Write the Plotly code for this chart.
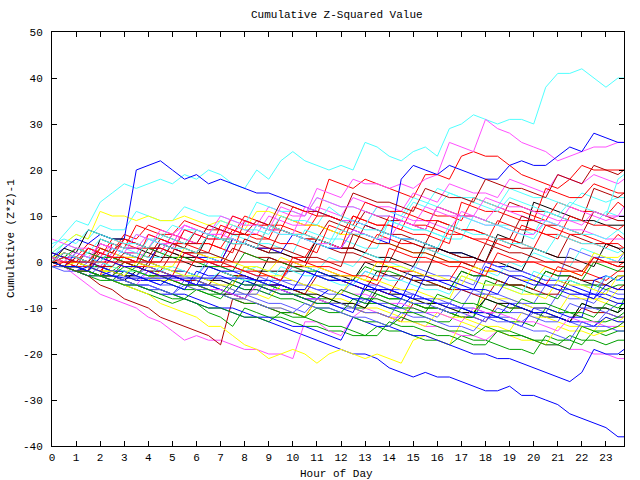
import plotly.graph_objects as go

# x positions (hours) of the samples
hours = [i * 0.5 for i in range(48)] + [23.75]
x_ticks = list(range(24))
y_ticks = [-40, -30, -20, -10, 0, 10, 20, 30, 40, 50]

# ---- series values ----
cyan_1 = [3, 6, 9, 8, 13, 15, 17, 16, 17, 18, 17, 19, 18, 20, 19, 17, 16, 20, 18, 22, 24, 22, 21, 20,
          21, 20, 26, 25, 23, 22, 24, 25, 23, 29, 30, 32, 31, 30, 31, 31, 30, 38, 41, 41, 42, 40, 38, 40, 40]
cyan_2 = [1, 4, 6, 5, 8, 7, 7, 11, 10, 9, 9, 12, 11, 10, 10, 9, 8, 13, 12, 11, 11, 10, 14, 13,
          12, 12, 11, 10, 10, 9, 13, 12, 16, 15, 14, 14, 13, 12, 16, 15, 14, 14, 13, 12, 15, 14, 13, 14, 14]
cyan_3 = [0, 1, 0, 2, 1, 0, 3, 2, 1, 1, 4, 3, 2, 2, 1, 6, 5, 4, 4, 3, 2, 7, 6, 5,
          5, 4, 3, 3, 9, 8, 7, 7, 6, 5, 5, 10, 9, 8, 8, 7, 6, 11, 10, 9, 9, 8, 11, 10, 10]
cyan_4 = [1, 0, 2, 1, 0, -1, 1, 0, -1, -2, -1, -2, -3, 1, 0, -1, -2, -1, -2, -3, 0, -1, -2, 1,
          0, -1, 2, 1, 0, -1, -2, 3, 2, 1, 0, -1, -2, -3, 0, -1, 2, 1, 0, -1, 3, 2, 1, 0, 1]
cyan_5 = [2, 4, 3, 2, 5, 4, 3, 6, 5, 5, 8, 7, 7, 6, 9, 8, 7, 7, 6, 10, 9, 9, 8, 12,
          10, 9, 8, 12, 11, 10, 14, 13, 12, 15, 14, 13, 12, 11, 14, 13, 12, 11, 10, 13, 12, 11, 10, 18, 19]
cyan_6 = [0, -1, -1, -2, 0, -1, -2, -2, -3, -1, -2, -3, -3, -4, -2, -3, -4, -4, -5, -1, -2, -3, -3, -4,
          -5, -5, -2, -3, -4, -4, -5, -6, -6, -7, -3, -4, -5, -5, -6, -7, -2, -3, -4, -4, -5, -6, -3, -4, -4]
cyan_7 = [4, 5, 4, 7, 6, 5, 4, 4, 3, 6, 5, 4, 7, 6, 5, 5, 4, 8, 7, 6, 6, 5, 4, 3,
          7, 6, 6, 5, 9, 8, 7, 7, 6, 5, 10, 9, 8, 8, 7, 6, 5, 9, 8, 7, 6, 6, 5, 7, 6]
cyan_8 = [0, 2, 1, 0, 0, 3, 2, 1, 5, 4, 3, 3, 2, 6, 5, 4, 4, 3, 8, 7, 6, 6, 5, 4,
          9, 8, 7, 7, 6, 5, 5, 4, 3, 8, 7, 6, 6, 5, 4, 4, 3, 2, 6, 5, 4, 4, 3, 2, 3]

blue_1 = [0, -1, -2, -3, -3, -4, -5, -5, -6, -7, -7, -8, -9, -10, -10, -11, -12, -12, -13, -14, -15, -16, -17, -18,
          -19, -20, -20, -21, -23, -24, -25, -24, -25, -25, -26, -27, -28, -28, -27, -29, -29, -30, -31, -33, -34, -35, -36, -38, -38]
blue_2 = [0, -1, -1, -2, -3, -3, -4, -5, -5, -6, -7, -7, -8, -9, -10, -10, -11, -12, -12, -13, -14, -14, -15, -16,
          -17, -12, -13, -14, -14, -15, -16, -16, -17, -18, -19, -20, -20, -21, -21, -22, -23, -24, -25, -26, -24, -19, -20, -20, -19]
blue_3 = [1, 3, 5, 4, 6, 5, 5, 20, 21, 22, 20, 18, 19, 17, 18, 17, 16, 15, 15, 14, 13, 12, 11, 10,
          9, 9, 8, 7, 6, 5, 5, 4, 3, 2, 2, 1, 0, -1, -1, -2, -3, -4, -4, -5, -6, -7, -7, -8, -8]
blue_4 = [0, -1, 2, 1, 0, 3, 2, 1, 0, 4, 3, 2, 1, 1, 0, 5, 4, 3, 3, 2, 6, 5, 4, 3,
          3, 7, 6, 5, 4, 18, 21, 20, 19, 21, 20, 19, 18, 18, 21, 22, 21, 21, 23, 25, 24, 28, 27, 26, 26]
blue_5 = [0, -1, -1, -2, -3, -2, -3, -4, -4, -5, -3, -4, -5, -5, -6, -7, -4, -5, -6, -6, -7, -8, -8, -6,
          -7, -8, -8, -9, -10, -10, -7, -8, -9, -9, -10, -11, -11, -12, -9, -10, -11, -11, -12, -13, -13, -14, -12, -13, -13]
blue_6 = [2, 1, 0, 0, -1, -2, -2, -3, -4, -4, -5, -6, -2, -3, -3, -4, -5, -5, -6, -7, -7, -8, -9, -9,
          -10, -11, -5, -6, -6, -7, -8, -8, -9, -10, -10, -11, -12, -12, -13, -14, -10, -10, -11, -12, -12, -4, -3, -4, -3]
blue_7 = [0, -1, -2, -1, -2, -3, -3.5, -3.5, -3.5, -3.5, -3.5, -3.5, -3.5, -3.5, -3.5, -3.5, -3.5, -4, -5, -5, -6, -2, -3, -4,
          -4, -5, -6, -6, -7, -8, -3, -4, -4, -5, -6, -6, -1, -2, -3, -3, -4, -5, -5, -6, -7, -7, -8, -9, -9]
blue_8 = [0, -1, -1, -2, 1, 0, -1, -1, -2, -3, -3, -4, -5, -1, -2, -2, -3, -4, -4, -5, -6, -6, -2, -3,
          -4, -4, -5, -6, -6, -7, -8, -3, -4, -4, -5, -6, -6, -7, -3, -4, -5, -5, -6, -7, -7, -8, -5, -6, -6]

medblue_1 = [-1, -2, -2, -3, -1, -2, -3, -3, -4, -5, -5, -6, -3, -4, -4, -5, -6, -6, -7, -4, -5, -5, -6, -7,
             -7, -8, -9, -5, -6, -6, -7, -8, -8, -9, -6, -7, -7, -8, -9, -9, -10, -11, -7, -8, -8, -9, -6, -7, -7]
medblue_2 = [1, 0, -1, -1, -2, -3, -3, -4, -2, -3, -4, -4, -5, -6, -6, -7, -8, -5, -6, -6, -7, -8, -8, -9,
             -10, -10, -8, -9, -9, -10, -11, -11, -12, -9, -10, -10, -11, -12, -12, -13, -11, -12, -12, -13, -14, -14, -11, -12, -12]
medblue_3 = [2, 1, 1, 0, -1, 2, 1, 0, 0, -1, -2, -2, -3, 0, -1, -2, -2, -3, -4, -4, -1, -2, -3, -3,
             -4, -5, -2, -3, -3, -4, -1, -2, -3, -3, -4, -5, 0, -1, -2, -2, -3, -4, -4, 3, 2, 1, 1, 0, 2]
medblue_4 = [0, -1, -1, -2, -3, -3, -4, -5, -5, -6, -7, -4, -5, -5, -6, -7, -7, -8, -9, -9, -10, -11, -8, -9,
             -9, -10, -11, -11, -12, -8, -9, -9, -10, -11, -11, -12, -13, -10, -11, -11, -12, -13, -13, -9, -10, -10, -11, -9, -9]
medblue_5 = [-1, -1, -2, 0, -1, -2, -2, -3, -1, -2, -3, -3, -4, -5, -5, -6, -7, -7, -3, -4, -4, -5, -6, -6,
             -7, -4, -5, -5, -6, -7, -7, -8, -9, -9, -10, -6, -7, -7, -8, -9, -9, -5, -6, -6, -7, -8, -3, -4, -4]
medblue_6 = [0, -1, -2, -2, -3, -4, -4, -5, -6, -6, -7, -5, -6, -6, -7, -8, -8, -9, -10, -10, -11, -9, -10, -10,
             -11, -12, -12, -13, -14, -11, -12, -12, -13, -14, -14, -15, -12, -13, -13, -14, -15, -15, -16, -17, -13, -14, -14, -15, -15]

green_1 = [0, -1, -2, -3, -4, -4, -5, -6, -7, -8, -9, -8, -9, -11, -12, -14, -10, -11, -12, -12, -13, -14, -14, -15,
           -15, -16, -16, -14, -15, -15, -16, -17, -17, -18, -16, -17, -17, -18, -19, -19, -20, -16, -17, -17, -18, -15, -16, -15, -15]
green_2 = [1, 0, 0, -1, -2, -2, -3, -1, -2, -3, -3, -4, -5, -5, -6, -7, -4, -5, -5, -6, -7, -7, -8, -9,
           -9, -10, -6, -7, -8, -8, -9, -10, -10, -11, -12, -12, -8, -9, -10, -10, -11, -12, -12, -13, -9, -10, -10, -11, -8]
green_3 = [0, 1, 0, -1, -1, -2, 0, -1, -2, -2, -3, -4, -4, -5, -2, -3, -4, -4, -5, -6, -6, -7, -8, -8,
           -9, -10, -10, -7, -8, -8, -9, -10, -10, -11, -12, -12, -4, -5, -5, -6, -7, -7, -8, -4, -5, -5, -6, -5, -5]
green_4 = [-1, -1, -2, -3, -3, -4, -2, -3, -4, -4, -5, -6, -6, -7, -8, -5, -6, -6, -7, -8, -8, -9, -10, -10,
           -11, -8, -9, -9, -10, -11, -11, -12, -13, -13, -10, -11, -11, -12, -13, -13, -14, -10, -11, -11, -12, -13, -13, -12, -11]
green_5 = [2, 1, 3, 2, 1, 1, 0, -1, 3, 2, 1, 1, 0, -1, -1, -2, 2, 1, 0, 0, -1, -2, -2, -3,
           -4, -4, -1, -2, -2, -3, -4, -4, -5, -6, -2, -3, -3, -4, -5, -5, -6, -2, -3, -3, -4, 0, -1, -2, -1]
green_6 = [0, -1, -2, -2, -3, -4, -4, -5, -6, -6, -7, -8, -6, -7, -7, -8, -9, -9, -10, -11, -11, -12, -10, -11,
           -11, -12, -13, -13, -14, -12, -13, -13, -14, -15, -15, -16, -14, -15, -15, -16, -17, -17, -18, -16, -17, -17, -18, -17, -17]
green_7 = [0, -1, -1, -2, -3, -3, -1, -2, -3, -3, -4, -5, -5, -6, -7, -4, -5, -5, -6, -7, -7, -8, -9, -9,
           -6, -7, -8, -8, -9, -10, -10, -11, -7, -8, -9, -9, -10, -11, -11, -8, -9, -9, -10, -11, -11, -12, -9, -10, -9]
green_8 = [0, -1, -2, -2, -3, -4, -5, -5, -6, -7, -8, -8, -9, -10, -10, -11, -12, -12, -13, -11, -12, -12, -13, -14,
           -14, -15, -16, -16, -13, -14, -14, -15, -16, -16, -17, -18, -18, -15, -16, -16, -17, -18, -18, -19, -14, -15, -15, -14, -13]

yellow_1 = [0, -1, -2, -2, -3, -4, -5, -6, -7, -9, -10, -11, -12, -14, -14, -16, -18, -19, -21, -20, -19, -20, -22, -20,
            -19, -20, -21, -20, -21, -22, -17, -16, -17, -18, -13, -14, -15, -15, -16, -17, -17, -18, -14, -15, -15, -16, -15, -14, -14]
yellow_2 = [2, 4, 6, 5, 11, 10, 10, 9, 10, 9, 9, 10, 9, 8, 9, 8, 7, 11, 11, 10, 9, 8, 8, 7,
            6, 6, 5, 4, 4, 3, 2, 2, 1, 0, 0, -1, -2, -2, -3, -4, -4, -5, -6, -6, -7, -8, -8, -9, -9]
yellow_3 = [1, 0, 0, -1, -2, -2, -3, -4, -4, -2, -3, -3, -4, -5, -5, -6, -7, -7, -8, -5, -6, -6, -7, -8,
            -8, -9, -10, -10, -11, -12, -8, -9, -9, -10, -11, -11, -7, -8, -8, -9, -10, -10, -11, -7, -8, -8, -9, -6, -6]
yellow_4 = [0, -1, -1, -2, -3, -1, -2, -2, -3, -4, -4, -5, -6, -6, -7, -8, -8, -9, -10, -10, -11, -12, -8, -9,
            -9, -10, -11, -11, -12, -13, -13, -14, -11, -12, -12, -13, -14, -14, -15, -11, -12, -12, -13, -14, -14, -15, -12, -13, -12]
yellow_5 = [1, 2, 1, 0, 3, 2, 1, 1, 0, -1, -1, 3, 2, 1, 1, 0, -1, -1, -2, 1, 0, -1, -1, -2,
            -3, -3, -4, 0, -1, -1, -2, -3, -3, -4, -5, -1, -2, -2, -3, -4, -4, -1, -2, -2, -3, 2, 1, 1, 2]
yellow_6 = [0, -1, 0, -1, -2, -2, -3, 0, -1, -1, -2, -3, -3, -4, -5, -5, -1, -2, -3, -3, -4, -5, -5, -6,
            -7, -3, -4, -4, -5, -6, -6, -7, -8, -8, -3, -4, -5, -5, -6, -7, -7, -8, -4, -5, -5, -6, -7, -3, -3]

magenta_1 = [0, -1, -3, -5, -7, -8, -9, -10, -12, -13, -15, -17, -16, -17, -17, -18, -19, -19, -20, -20, -21, -13, -13, -15,
             -16, -12, -10, -11, -12, -12, -13, -14, -14, -15, -16, -16, -17, -15, -16, -16, -17, -18, -18, -19, -19, -20, -20, -21, -21]
magenta_2 = [1, 0, 3, 2, 1, 4, 3, 3, 6, 5, 4, 8, 7, 6, 6, 10, 9, 8, 12, 11, 10, 10, 16, 15,
             14, 18, 17, 17, 16, 17, 16, 18, 19, 26, 25, 24, 31, 29, 28, 26, 25, 24, 22, 23, 24, 25, 25, 26, 26]
magenta_3 = [0, 2, 1, 0, 4, 3, 2, 2, 5, 4, 3, 7, 6, 5, 5, 8, 7, 6, 10, 9, 8, 8, 12, 11,
             10, 14, 13, 12, 12, 11, 15, 14, 13, 17, 16, 15, 15, 14, 18, 17, 16, 15, 19, 18, 17, 19, 18, 17, 18]
magenta_4 = [0, -1, 1, 0, -1, 2, 1, 0, 3, 2, 6, 5, 4, 8, 7, 6, 9, 8, 7, 7, 6, 12, 11, 10,
             9, 9, 8, 12, 11, 10, 9, 9, 8, 7, 11, 10, 9, 12, 11, 10, 9, 9, 8, 12, 11, 10, 9, 10, 12]
magenta_5 = [0, -1, -2, -2, -3, -4, -4, -5, -2, -3, -4, -4, -5, -6, -6, -7, -8, -5, -6, -6, -7, -8, -8, -9,
             -6, -7, -7, -8, -9, -9, -10, -11, -11, -12, -13, -10, -11, -11, -12, -13, -13, -14, -15, -12, -13, -13, -14, -14, -13]
magenta_6 = [5, 4, 3, 3, 2, 1, 5, 4, 3, 7, 6, 8, 7, 6, 6, 5, 4, 8, 7, 6, 6, 5, 4, 4,
             3, 7, 6, 5, 5, 9, 8, 7, 12, 11, 10, 10, 14, 13, 12, 12, 11, 10, 9, 9, 8, 11, 10, 10, 10]
magenta_7 = [1, 0, 2, 1, 4, 3, 2, 6, 5, 4, 4, 8, 7, 6, 10, 9, 8, 8, 7, 12, 11, 10, 14, 13,
             12, 12, 11, 10, 10, 9, 8, 12, 11, 10, 10, 9, 8, 8, 7, 6, 6, 9, 8, 7, 7, 6, 5, 5, 5]

red_0 = [0, 0, 0, 0, 0, 0, 0, 0, 0, 0, 0, 0, 0, 0, 0, 0, 0, 0, 0, 0, 0, 0, 0, 0,
         0, 0, 0, 0, 0, 0, 0, 0, 0, 0, 0, 0, 0, 0, 0, 0, 0, 0, 0, 0, 0, 0, 0, 0, 0]
red_1 = [0, 2, 1, 4, 3, 2, 6, 5, 8, 7, 6, 9, 8, 7, 7, 6, 10, 9, 8, 8, 7, 6, 10, 18,
         17, 16, 18, 17, 16, 15, 14, 19, 19, 18, 23, 24, 23, 23, 21, 19, 18, 17, 16, 18, 21, 20, 20, 20, 20]
red_2 = [1, 0, 3, 2, 1, 5, 4, 3, 3, 2, 6, 5, 4, 4, 3, 7, 6, 5, 5, 10, 9, 8, 8, 7,
         6, 10, 9, 8, 8, 7, 12, 11, 10, 10, 9, 14, 13, 12, 11, 11, 10, 9, 13, 12, 11, 11, 10, 13, 12]
red_3 = [-1, 0, -1, -2, 3, 2, 1, 1, 0, 4, 3, 2, 2, 1, 0, 5, 4, 3, 3, 2, 1, 1, 5, 4,
         3, 3, 2, 6, 5, 4, 4, 3, 2, 7, 6, 5, 5, 4, 3, 8, 7, 6, 6, 5, 4, 4, 3, 6, 5]
red_4 = [0, -1, -1, -2, -3, 4, 3, 8, 7, 6, 6, 5, 4, 4, 3, 2, 9, 8, 7, 7, 6, 5, 5, 4,
         3, 10, 9, 8, 8, 7, 6, 6, 5, 4, 13, 12, 11, 11, 10, 9, 9, 16, 15, 14, 14, 17, 16, 15, 15]
red_5 = [1, 0, -1, -1, -2, 1, 0, -1, -1, -2, -3, -3, 1, 0, -1, -1, -2, -3, -3, -4, 0, -1, -1, -2,
         -3, -3, -4, -5, -1, -2, -2, -3, -4, -4, 0, -1, -2, -2, -3, -4, -4, -5, -1, -2, -2, -3, -4, -2, -2]
red_6 = [2, 1, 0, 3, 2, 1, 1, 0, 6, 5, 4, 4, 3, 2, 8, 7, 6, 6, 5, 4, 4, 3, 2, 8,
         7, 6, 6, 5, 10, 9, 8, 8, 7, 6, 6, 5, 4, 9, 8, 7, 7, 6, 5, 10, 9, 8, 8, 7, 8]
red_7 = [0, 1, 0, 3, 2, 1, 5, 4, 3, 3, 2, 7, 6, 5, 5, 10, 9, 8, 8, 7, 12, 11, 10, 10,
         9, 8, 13, 12, 11, 11, 10, 9, 9, 8, 7, 7, 6, 5, 5, 4, 3, 8, 7, 6, 6, 5, 4, 4, 3]
red_8 = [0, -1, -2, -2, 1, 0, -1, -1, -2, -3, -3, 2, 1, 0, 0, -1, -2, -2, -3, -4, 1, 0, -1, -1,
         -2, -3, -3, -4, 3, 2, 1, 1, 0, -1, -1, -2, -3, 2, 1, 0, 0, -1, -2, -2, -3, 1, 0, -1, 0]

darkred_1 = [0, -1, -2, -3, -5, -6, -8, -9, -10, -12, -13, -14, -15, -16, -18, -8, -9, -9, -10, -11, -11, -12, -8, -9,
             -9, -10, -11, -11, -12, -13, -9, -10, -10, -11, -12, -12, -13, -9, -10, -10, -11, -12, -12, -13, -10, -11, -11, -12, -12]
darkred_2 = [0, 2, 1, 0, 4, 3, 2, 2, 1, 5, 4, 3, 7, 6, 5, 5, 4, 3, 8, 7, 6, 6, 5, 9,
             8, 7, 11, 10, 9, 9, 8, 7, 12, 11, 10, 10, 9, 8, 13, 12, 11, 11, 10, 9, 9, 16, 15, 14, 15]
darkred_3 = [1, 0, 0, -1, 2, 1, 0, 0, -1, -2, 2, 1, 0, 0, -1, 3, 2, 1, 1, 0, -1, -1, 4, 3,
             2, 2, 1, 0, 0, 5, 4, 3, 3, 2, 1, 1, 0, 5, 4, 3, 3, 2, 1, 6, 5, 4, 4, 3, 3]
darkred_4 = [0, -1, -1, 3, 2, 1, 1, 0, -1, 4, 3, 2, 2, 6, 5, 4, 4, 3, 2, 7, 6, 5, 5, 4,
             3, 3, 8, 7, 6, 6, 5, 4, 9, 8, 7, 7, 6, 5, 5, 10, 9, 8, 8, 7, 6, 11, 10, 9, 9]
darkred_5 = [0, -1, -1, -2, -3, -3, 0, -1, -2, -2, -3, -4, -4, -5, -2, -3, -3, -4, -5, -5, -6, -7, -3, -4,
             -4, -5, -6, -6, -7, -3, -4, -4, -5, -6, -6, -7, -8, -4, -5, -5, -6, -7, -7, -3, -4, -4, -5, -6, -5]
darkred_6 = [0, 2, 1, 0, 3, 2, 5, 4, 3, 6, 5, 4, 4, 8, 7, 6, 6, 9, 8, 13, 12, 11, 11, 10,
             9, 15, 14, 13, 13, 12, 11, 16, 15, 14, 14, 13, 18, 17, 16, 16, 15, 14, 19, 18, 17, 21, 20, 19, 20]
darkred_7 = [0, -1, 1, 0, -1, -1, 2, 1, 0, 0, 4, 3, 2, 2, 1, 0, 5, 4, 3, 3, 2, 1, 1, 0,
             -1, 6, 5, 4, 4, 3, 2, 2, 1, 0, 0, -1, 4, 3, 2, 2, 1, 0, 0, -1, -2, 1, 0, -1, -1]

black_1 = [0, -1, -1, -2, 5, 4, 3, 3, 2, 1, 1, 0, -1, -1, -2, -3, -3, -4, 1, 0, -1, -1, -2, -3,
           -3, -4, 0, -1, -1, -2, -3, -3, 3, 2, 1, 1, 0, 6, 5, 4, 13, 12, 11, 10, 9, 9, 8, 8, 8]
black_2 = [0, 1, 0, -1, -1, -2, -3, -3, 0, -1, -2, -2, -3, -4, -4, -5, -1, -2, -2, -2, -2, -2, -3, -4,
           -4, -5, -6, -2, -3, -3, -4, -5, -5, -6, -2, -3, -3, -4, -5, -5, -6, -2, -3, -3, -4, -5, -5, -3, -3]
black_3 = [0, 3, 2, 7, 6, 5, 5, 4, 3, 3, 2, 1, 1, 6, 5, 4, 4, 3, 2, 2, 1, 0, 5, 4,
           3, 3, 2, 1, 1, 0, -1, 4, 3, 2, 2, 1, 0, 0, -1, -2, 3, 2, 1, 1, 0, -1, 4, 3, 2]
black_4 = [0, -1, -1, -2, -3, -3, -4, -2, -3, -3, -4, -5, -5, -6, -7, -7, -8, -4, -5, -5, -6, -7, -7, -8,
           -9, -9, -10, -6, -7, -7, -8, -9, -9, -10, -11, -11, -8, -9, -9, -10, -11, -11, -12, -13, -9, -10, -10, -11, -10]

# ---- colours (gnuplot-like palette) ----
RED = "#ff0000"
GREEN = "#00a000"
BLUE = "#0000ff"
MAGENTA = "#ff50ff"
CYAN = "#50ffff"
DARKRED = "#b00000"
YELLOW = "#ffff00"
BLACK = "#000000"
MEDBLUE = "#5a5aff"

groups = [
    [(RED, red_1), (RED, red_2), (RED, red_3), (RED, red_4), (RED, red_5), (RED, red_6), (RED, red_7), (RED, red_8)],
    [(GREEN, green_1), (GREEN, green_2), (GREEN, green_3), (GREEN, green_4), (GREEN, green_5), (GREEN, green_6),
     (GREEN, green_7), (GREEN, green_8)],
    [(BLUE, blue_1), (BLUE, blue_2), (BLUE, blue_3), (BLUE, blue_4), (BLUE, blue_5), (BLUE, blue_6), (BLUE, blue_7),
     (BLUE, blue_8)],
    [(MAGENTA, magenta_1), (MAGENTA, magenta_2), (MAGENTA, magenta_3), (MAGENTA, magenta_4), (MAGENTA, magenta_5),
     (MAGENTA, magenta_6), (MAGENTA, magenta_7)],
    [(CYAN, cyan_1), (CYAN, cyan_2), (CYAN, cyan_3), (CYAN, cyan_4), (CYAN, cyan_5), (CYAN, cyan_6), (CYAN, cyan_7),
     (CYAN, cyan_8)],
    [(DARKRED, darkred_1), (DARKRED, darkred_2), (DARKRED, darkred_3), (DARKRED, darkred_4), (DARKRED, darkred_5),
     (DARKRED, darkred_6), (DARKRED, darkred_7)],
    [(YELLOW, yellow_1), (YELLOW, yellow_2), (YELLOW, yellow_3), (YELLOW, yellow_4), (YELLOW, yellow_5), (YELLOW, yellow_6)],
    [(BLACK, black_1), (BLACK, black_2), (BLACK, black_3), (BLACK, black_4)],
    [(MEDBLUE, medblue_1), (MEDBLUE, medblue_2), (MEDBLUE, medblue_3), (MEDBLUE, medblue_4), (MEDBLUE, medblue_5),
     (MEDBLUE, medblue_6)],
]

order = []
max_len = max(len(g) for g in groups)
for k in range(max_len):
    for g in groups:
        if k < len(g):
            order.append(g[k])
order.append((RED, red_0))

fig = go.Figure()
for color, vals in order:
    fig.add_trace(go.Scatter(
        x=hours[:len(vals)], y=vals, mode="lines",
        line=dict(color=color, width=1),
        showlegend=False, hoverinfo="skip"))

FONT = "Liberation Mono"
FSIZE = 11
axis_common = dict(
    showline=True, linecolor="black", linewidth=1, mirror="ticks",
    ticks="inside", ticklen=5, tickcolor="black", tickwidth=1,
    showgrid=False, zeroline=False,
    tickfont=dict(family=FONT, size=FSIZE, color="black"),
)

fig.update_layout(
    width=640, height=480,
    margin=dict(l=52, r=16, t=32, b=34, pad=0),
    paper_bgcolor="white", plot_bgcolor="white",
    font=dict(family=FONT, size=FSIZE, color="black"),
    xaxis=dict(range=[0, 23.75], tickmode="array", tickvals=x_ticks,
               ticktext=[str(v) for v in x_ticks], ticklabelstandoff=1, **axis_common),
    yaxis=dict(range=[-40, 50], tickmode="array", tickvals=y_ticks,
               ticktext=[str(v) for v in y_ticks], ticklabelstandoff=6, **axis_common),
    annotations=[
        dict(text="Cumulative Z-Squared Value", xref="paper", yref="paper",
             x=0.498, y=(446 - 15) / 414, xanchor="center", yanchor="middle",
             showarrow=False, font=dict(family=FONT, size=FSIZE, color="black")),
        dict(text="Hour of Day", xref="paper", yref="paper",
             x=0.498, y=(446 - 474) / 414, xanchor="center", yanchor="middle",
             showarrow=False, font=dict(family=FONT, size=FSIZE, color="black")),
        dict(text="Cumulative (Z*Z)-1", xref="paper", yref="paper",
             x=(11 - 52) / 572, y=0.5, xanchor="center", yanchor="middle",
             textangle=-90, showarrow=False, font=dict(family=FONT, size=FSIZE, color="black")),
    ],
)

fig.write_html("out.html")
